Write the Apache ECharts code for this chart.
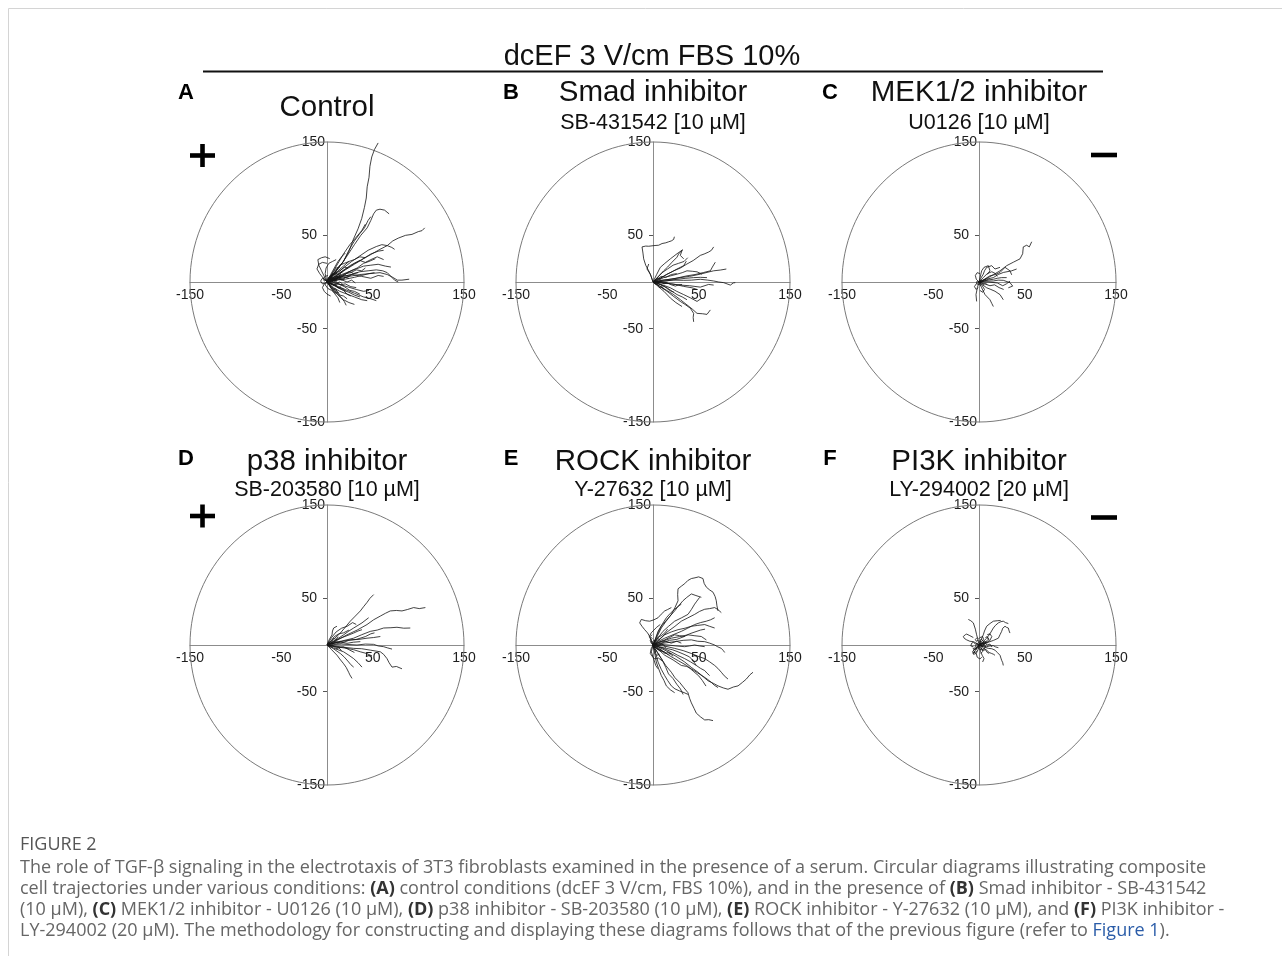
<!DOCTYPE html>
<html>
<head>
<meta charset="utf-8">
<script src="https://cdn.jsdelivr.net/npm/echarts@6/dist/echarts.min.js"></script>
<style>
  html, body { margin: 0; padding: 0; background: #ffffff; }
  #chart { width: 1282px; height: 956px; }
</style>
</head>
<body>
<div id="chart"></div>
<script>
// Composite cell trajectories (µm), every track starts at the origin.
const tracksControl = [
  [[0,0],[6,7],[12,15],[18,22],[24,33],[29,46],[34,57],[38,68],[41,80],[43,90],[44,102],[46,112],[47,124],[49,134],[52,142],[56,149]],
  [[0,0],[8,9],[15,18],[22,28],[30,40],[37,50],[44,58],[48,66],[51,73],[54,77],[58,78],[63,77],[68,73]],
  [[0,0],[10,6],[20,13],[30,19],[40,25],[49,30],[58,35],[66,39],[72,44],[78,47],[86,50],[93,51],[100,54],[104,55],[107,58]],
  [[0,0],[9,8],[18,15],[27,22],[36,28],[45,34],[54,38],[60,40],[66,39],[71,37],[74,35]],
  [[0,0],[9,3],[18,6],[27,8],[36,11],[45,12],[54,13],[61,12],[66,10],[70,6],[74,2],[78,0]],
  [[0,0],[12,3],[24,6],[36,8],[47,9],[58,10],[66,8],[72,5],[77,2],[82,2],[90,3]],
  [[0,0],[6,10],[12,20],[18,30],[25,40],[32,48],[38,55],[42,62]],
  [[0,0],[-3,6],[-6,12],[-9,18],[-10,24],[-6,26],[-2,27],[3,25]],
  [[0,0],[-4,4],[-8,9],[-11,14],[-9,19],[-5,21],[0,20]],
  [[0,0],[5,-5],[10,-11],[15,-16],[19,-21],[21,-25]],
  [[0,0],[8,-4],[16,-8],[24,-11],[30,-14],[36,-16]],
  [[0,0],[10,-4],[20,-8],[30,-12],[40,-16],[48,-18],[54,-20]],
  [[0,0],[7,-6],[14,-10],[22,-13],[30,-16],[38,-19],[44,-20]],
  [[0,0],[12,-2],[22,-5],[32,-8],[40,-10],[46,-9]],
  [[0,0],[10,2],[20,3],[30,5],[38,7],[46,9],[52,10]],
  [[0,0],[8,4],[16,8],[24,11],[32,14],[40,17],[48,18],[56,19],[64,17],[70,16]],
  [[0,0],[6,6],[12,12],[18,17],[24,22],[30,24],[36,27],[42,26]],
  [[0,0],[4,8],[8,15],[12,22],[16,27],[20,31]],
  [[0,0],[9,6],[16,11],[24,16],[30,20],[36,23],[42,21],[48,24],[55,27],[62,24]],
  [[0,0],[6,-2],[12,-6],[18,-9],[22,-13],[26,-15]],
  [[0,0],[4,-6],[8,-12],[12,-17],[14,-22]],
  [[0,0],[2,3],[5,7],[9,9],[13,8],[17,11]],
  [[0,0],[-3,-2],[-5,-6],[-3,-10],[0,-13],[4,-15]],
  [[0,0],[-2,3],[-5,4],[-7,1],[-5,-2],[-1,-1]],
  [[0,0],[5,1],[10,-1],[15,-3],[20,-2],[26,-5],[32,-6]],
  [[0,0],[6,3],[12,5],[18,4],[24,6],[28,9],[34,10]],
  [[0,0],[3,5],[7,9],[11,14],[14,18],[19,20],[24,22]],
  [[0,0],[8,2],[14,6],[20,9],[26,10],[32,13],[38,12],[42,15]],
  [[0,0],[3,-4],[7,-7],[11,-10],[14,-14],[18,-15],[22,-18]],
  [[0,0],[10,12],[18,22],[24,34],[30,44],[36,52],[41,58],[45,66],[48,70]],
  [[0,0],[14,10],[26,18],[38,24],[48,30],[56,33],[62,34]],
  [[0,0],[-2,9],[-1,15],[2,20],[6,22],[10,24]],
  [[0,0],[6,-8],[12,-14],[18,-19],[24,-22],[30,-24]],
  [[0,0],[16,6],[28,8],[38,6],[48,4],[56,7],[62,6]],
  [[0,0],[4,2],[7,-1],[10,2],[12,5],[15,3]],
  [[0,0],[5,4],[10,6],[15,5],[20,8],[24,11],[28,10]],
  [[0,0],[3,-2],[8,-3],[12,-6],[17,-7],[21,-10]],
  [[0,0],[6,1],[11,4],[17,2],[22,0],[27,2],[31,-1]],
  [[0,0],[-2,-3],[1,-7],[5,-9],[9,-12],[12,-11]],
  [[0,0],[4,6],[9,10],[14,12],[19,16],[23,15]],
  [[0,0],[7,-3],[13,-2],[19,-5],[25,-9],[30,-10],[36,-13]],
  [[0,0],[2,4],[6,5],[9,3],[12,6],[15,8]],
  [[0,0],[9,4],[18,7],[26,12],[33,15],[40,20],[46,22],[53,25]],
  [[0,0],[3,1],[5,4],[8,3],[10,6],[13,5],[15,8]],
  [[0,0],[2,-2],[5,-1],[7,-4],[10,-3],[12,-6],[15,-5]],
  [[0,0],[4,3],[6,1],[9,2],[11,-1],[14,0],[17,-2]],
  [[0,0],[1,4],[4,6],[6,9],[9,8],[11,11]],
  [[0,0],[3,-3],[4,-6],[7,-8],[9,-7],[11,-10],[13,-12]],
  [[0,0],[-1,2],[-3,1],[-4,4],[-2,6],[1,7]],
  [[0,0],[5,2],[9,1],[13,3],[17,2],[20,5],[24,4]],
  [[0,0],[2,5],[5,8],[8,12],[10,15],[14,16]]
];

const tracksSmad = [
  [[0,0],[-2,6],[-4.7,12],[-8,18],[-10.2,24.8],[-11,31],[-12,37.6],[-8,38.5],[-4.7,38.3],[1,39],[6.2,39.4],[9.9,41.2],[14,42],[17.2,43.1],[20,44],[22.6,45.6],[23.4,48.5]],
  [[0,0],[8,4],[15,8],[22.6,12],[30,15],[37.2,19.3],[44,23],[51.8,28.5],[56,30],[60.9,32.1],[64,34],[66.4,37.6]],
  [[0,0],[6,6],[11.7,12],[16,16],[20.8,21.2],[26.3,26.6],[28,30],[31.8,33.9],[29.9,28.5],[33.6,24.8]],
  [[0,0],[10,2],[20,3],[29.9,4.7],[40,6],[51.8,8.4],[58,10],[66.4,12],[73.7,12.8],[80.3,13.9]],
  [[0,0],[12,1],[22,2],[33.6,1.8],[42,2],[51.8,2.9],[60,2],[66.4,1.1],[72,0],[77.4,-0.7],[84.7,-3.3],[88,-1],[90.1,-0.7]],
  [[0,0],[12,2],[25,4],[37.2,6.6],[46,8],[55.5,10.2],[62.8,12],[65,16],[68.2,21.2]],
  [[0,0],[8,-5],[15.3,-9.9],[22,-15],[29.9,-20.8],[35,-24],[40.9,-28.1],[44.5,-33.6],[44,-38],[44.5,-42.7]],
  [[0,0],[10,-6],[22.6,-13.5],[30,-19],[37.2,-24.5],[43,-29],[48.2,-33.6],[54,-34],[59.1,-34.7],[62.8,-29.9]],
  [[0,0],[10,-3],[19,-6.2],[26,-10],[33.6,-13.5],[41,-17],[48.2,-20.8],[53.6,-17.2]],
  [[0,0],[10,-1],[20,-2],[29.9,-3.3],[40,-4],[51.8,-5.5],[60.9,-2.6],[66.4,-3.3]],
  [[0,0],[4,8],[8,15.7],[13,20],[19,24.8],[26.3,30.3],[32.8,34.7]],
  [[0,0],[8,4],[15.3,8.4],[21,11],[26.3,13.9],[33.6,17.5],[36.5,22.3]],
  [[0,0],[10,-1],[19,-1.8],[26,-3],[33.6,-4.7],[42.7,-6.2],[48.2,-8]],
  [[0,0],[8,-3],[15.3,-6.2],[21,-10],[26.3,-13.5],[32,-16],[37.2,-19]],
  [[0,0],[-2.9,8.4],[-6.6,13.9],[-4.7,19.3]],
  [[0,0],[13,1],[26.3,2.9],[36,4],[44.5,4.7],[52,5],[59.1,4.7]],
  [[0,0],[8,0],[15.3,-0.7],[20,-3],[24.5,-4.4],[28,-3],[31.8,-2.6]],
  [[0,0],[6,2],[11.7,4.7],[19,6.5],[26.3,8.4],[32,10],[37.2,12],[43,11.5],[48.2,10.9],[53.6,8.4]],
  [[0,0],[6,-5],[12,-10],[19,-17.2],[25,-22],[31.8,-26.3]],
  [[0,0],[5,5],[10,10],[16,14],[22,18],[28,20],[34,22],[38,26]],
  [[0,0],[4,3],[9,6],[14,5],[20,8],[26,9]],
  [[0,0],[7,-2],[13,-5],[18,-9],[23,-11]],
  [[0,0],[3,1],[6,-1],[9,0],[12,-2],[15,-1]],
  [[0,0],[2,-2],[5,-3],[7,-6],[10,-5],[12,-8]],
  [[0,0],[3,2],[5,4],[8,3],[10,6]]
];

const tracksMek = [
  [[0,0],[5,2],[10.2,4.7],[16,8],[23,12],[30.3,17.5],[37.6,21.2],[44.9,24.8],[47.8,30.3],[48.5,37.6],[52.2,39.4],[55.1,37.6],[57.7,43.1]],
  [[0,0],[8,3],[15.7,4.7],[21,8],[26.6,10.2],[35.8,12],[41.2,13.9]],
  [[0,0],[2,4],[4.7,8.4],[6,12],[8.4,15.7],[13.9,17.5],[17.5,13.9],[23,15.7]],
  [[0,0],[8,1],[15.7,1.1],[21,2],[26.6,1.8],[33.9,-0.7],[36.9,-4.4],[32.1,-6.2]],
  [[0,0],[2.9,-6.2],[6.6,-13.5],[9,-16],[12,-19],[14,-23],[15.7,-26.3]],
  [[0,0],[4,-3],[8.4,-6.2],[13,-8],[17.5,-9.9],[23,-13.5],[26.6,-19]],
  [[0,0],[-1.8,-6.2],[-3.3,-13.5],[-2.6,-20.8]],
  [[0,0],[2.9,12],[5.5,15.7],[10.2,17.5],[12,12],[9,8]],
  [[0,0],[8,2],[15.7,2.9],[20,4],[24.8,4.7],[30.3,4.7]],
  [[0,0],[6,3],[12,6.6],[18,8],[23,10.2],[28.5,15.7],[33.9,12],[35.8,7.7]],
  [[0,0],[-3,3],[-4,7],[-2,10],[1,9]],
  [[0,0],[3,-3],[6,-8],[4,-11],[1,-9]],
  [[0,0],[6,-2],[12,-4],[17,-3],[22,-6],[27,-8]],
  [[0,0],[-3,-2],[-5,-5],[-3,-8],[-1,-6]],
  [[0,0],[5,5],[9,9],[14,11],[18,9],[20,6]],
  [[0,0],[10,0],[20,-1],[26,-4],[30,-2],[34,1]],
  [[0,0],[2,2],[4,0],[6,3],[8,1],[10,3]],
  [[0,0],[-2,1],[-3,-1],[-1,-3],[1,-2],[2,-4]],
  [[0,0],[3,-1],[5,-3],[7,-1],[9,-3]]
];

const tracksP38 = [
  [[0,0],[11,5],[21.9,10.9],[33,16],[43.8,21.9],[51,27],[58.4,31],[64,34],[69.3,36.5],[76,37],[82.1,36.5],[88,38],[94.9,40.1],[101,39],[107.7,40.1]],
  [[0,0],[15,4],[29.2,7.3],[38,11],[47.4,14.6],[55,16],[62,18.2],[70,18.5],[76.6,19],[84,18],[91.2,18.2]],
  [[0,0],[7,6],[14.6,12.8],[20,19],[25.5,25.5],[31,31],[36.5,36.5],[40,41],[43.8,45.6],[47,50],[51.1,54]],
  [[0,0],[9,5],[18.2,10.9],[24,15],[29.2,18.2],[38.3,23.7],[45.6,29.2]],
  [[0,0],[15,-2],[29.2,-3.6],[38,-4],[47.4,-5.5],[58.4,-7.3],[62,-10],[65.7,-14.6],[68,-19],[71.2,-23.7],[76,-23],[82.1,-25.5]],
  [[0,0],[16,1],[32.8,0],[42,1],[51.1,0.7],[56,-1],[62,-1.8],[66,-3],[71.2,-4.4]],
  [[0,0],[5,-5],[10.9,-10.9],[14,-15],[18.2,-20.1],[21,-24],[23.7,-29.2],[25,-32],[27.4,-35.8]],
  [[0,0],[9,-4],[18.2,-7.3],[24,-11],[29.2,-14.6],[34,-19],[38.3,-23.7]],
  [[0,0],[7,-4],[14.6,-9.1],[19,-13],[23.7,-18.2],[26,-21],[29.2,-23.7]],
  [[0,0],[2,5],[5.5,10.9],[6,15],[7.3,18.2],[10.9,20.1]],
  [[0,0],[12,3],[25.5,5.5],[35,6],[43.8,7.3],[51,8],[58.4,9.1]],
  [[0,0],[11,-2],[21.9,-3.6],[29,-5],[36.5,-7.3],[43,-9],[49.3,-11.7]],
  [[0,0],[7,4],[14.6,7.3],[22,10],[29.2,12.8],[34,15],[38.3,16.4]],
  [[0,0],[9.1,3.6],[15,3],[21.9,1.8],[29,3],[36.5,3.6]],
  [[0,0],[5,8],[10,14],[16,18],[22,20],[28,24],[32,22]],
  [[0,0],[6,-1],[12,-3],[18,-2],[24,-5],[30,-8]],
  [[0,0],[4,4],[8,9],[13,12],[18,13],[24,16]],
  [[0,0],[8,2],[16,2],[24,5],[32,6],[42,9],[48,12],[52,13]],
  [[0,0],[3,2],[6,1],[9,3],[12,2],[15,4]],
  [[0,0],[4,-2],[7,-1],[10,-4],[13,-3],[16,-6]],
  [[0,0],[2,3],[5,4],[7,7],[10,6],[12,9]]
];

const tracksRock = [
  [[0,0],[4,8],[9.1,18.2],[14,25],[20.1,32.8],[24,40],[27.4,47.4],[27,54],[27.4,60.2],[31,63],[34.7,65.7],[38,69],[42,71.2],[46,72],[50,73],[54.7,71.2],[56,66],[58.4,62],[62,59],[65.7,56.6],[68,52],[69.3,47.4],[70,42],[71.2,36.5]],
  [[0,0],[8,7],[16.4,14.6],[24,20],[31,25.5],[38,29],[45.6,32.8],[51,36],[56.6,38.3],[62,39],[67.5,40.1],[71,38],[74.8,34.7]],
  [[0,0],[-3.6,9.1],[-6,13],[-9.1,16.4],[-12,20],[-14.6,23.7],[-12.8,27.4],[-8,26],[-3.6,25.5],[1,27],[5.5,29.2],[9,33],[12.8,36.5],[16,38],[20.1,40.1]],
  [[0,0],[12,2],[23.7,3.6],[33,5],[42,5.5],[49,4],[56.6,3.6],[62,2],[67.5,0],[71,-2],[74.8,-3.6],[77,-6],[78.5,-8]],
  [[0,0],[8,-3],[16.4,-7.3],[25,-12],[34.7,-18.2],[42,-24],[49.3,-29.2],[55,-34],[60.2,-38.3],[66,-41],[71.2,-43.8],[77,-46],[82.1,-47.4],[88,-45],[93.1,-43.8],[98,-40],[102.2,-36.5],[106,-32],[109.5,-29.2]],
  [[0,0],[4,-7],[9.1,-14.6],[14,-22],[20.1,-29.2],[24,-35],[29.2,-40.1],[34,-46],[38.3,-51.1],[40,-57],[42,-62],[45,-68],[47.4,-73],[52,-77],[56.6,-80.3],[61,-80],[65.7,-81]],
  [[0,0],[10,-3],[20.1,-7.3],[27,-11],[34.7,-14.6],[41,-18],[47.4,-21.9],[52,-25],[56.6,-27.4],[59,-30],[62,-32.8]],
  [[0,0],[12,-1],[23.7,-3.6],[33,-6],[42,-9.1],[49,-12],[56.6,-14.6],[62,-18],[67.5,-21.9],[71,-25],[74.8,-29.2],[78,-33],[82.1,-36.5]],
  [[0,0],[3,-9],[5.5,-18.2],[9,-26],[12.8,-32.8],[16,-38],[20.1,-43.8],[24,-47],[29.2,-49.3],[34,-51],[38.3,-52.9]],
  [[0,0],[2,-9],[3.6,-18.2],[6,-25],[9.1,-32.8],[12,-38],[14.6,-43.8],[19,-48],[23.7,-51.1]],
  [[0,0],[6,5],[12.8,10.9],[20,14],[27.4,16.4],[35,18],[42,20.1],[49,21],[56.6,21.9],[62,20],[67.5,18.2]],
  [[0,0],[5,7],[10.9,14.6],[17,20],[23.7,25.5],[31,29],[38.3,32.8],[42,38],[45.6,43.8],[48,47],[51.1,51.1]],
  [[0,0],[4,10],[9.1,20.1],[16,28],[23.7,36.5],[28,42],[32.8,47.4],[37,51],[42,54.7],[47,53],[52.9,51.1]],
  [[0,0],[10,4],[20.1,7.3],[29,9],[38.3,10.9],[45,10],[52.9,9.1],[56,7],[58.4,5.5]],
  [[0,0],[8,0.5],[16.4,0],[25,-1],[34.7,-1.8],[40,-1],[45.6,0],[51,-1],[56.6,-1.8]],
  [[0,0],[6,-5],[12.8,-10.9],[22,-16],[31,-21.9],[37,-23],[42,-25.5],[49,-30],[56.6,-34.7],[60,-37],[63.9,-40.1],[67,-43],[71.2,-45.6]],
  [[0,0],[7,-2],[14.6,-3.6],[21,-5],[27.4,-7.3],[34,-10],[40.1,-12.8],[44,-17],[47.4,-21.9]],
  [[0,0],[-1.8,-7.3],[0,-13],[1.8,-18.2],[3,-22],[5.5,-25.5]],
  [[0,0],[3,7],[5.5,14.6],[10,22],[14.6,29.2],[19,34],[23.7,38.3],[27,41],[31,43.8]],
  [[0,0],[6,4],[12.8,7.3],[22,11],[31,14.6],[38,18],[45.6,21.9],[52,24],[58.4,25.5],[63,27],[67.5,29.2]],
  [[0,0],[6,3],[12.8,5.5],[18,8],[23.7,10.9],[29,10],[34.7,9.1]],
  [[0,0],[-2,-4],[-3,-9],[-1,-12],[2,-15],[6,-14],[10,-17]],
  [[0,0],[5,-8],[10,-16],[14,-24],[17,-31],[22,-36],[26,-42],[30,-47],[33,-53]],
  [[0,0],[10,-6],[19,-12],[28,-17],[37,-22],[44,-28],[50,-33],[54,-38],[58,-44]],
  [[0,0],[-2,5],[-4,9],[-2,13],[1,16],[4,19],[8,22]],
  [[0,0],[9,2],[18,5],[26,6],[34,9],[40,12],[46,14],[52,16],[57,17]],
  [[0,0],[3,-3],[7,-6],[12,-7],[16,-10],[20,-9]],
  [[0,0],[4,-4],[9,-6],[13,-9],[17,-8],[22,-12]],
  [[0,0],[7,3],[14,4],[20,2],[26,4],[31,2]],
  [[0,0],[2,4],[5,8],[9,10],[13,13],[16,17]],
  [[0,0],[2,-3],[4,-2],[6,-5],[8,-4],[10,-7]],
  [[0,0],[-1,3],[1,5],[3,4],[5,7],[7,6]],
  [[0,0],[3,1],[6,-1],[9,1],[12,0],[14,-3]],
  [[0,0],[1,-4],[3,-6],[2,-9],[4,-11],[7,-10]],
  [[0,0],[-2,2],[-3,5],[-1,7],[-3,9],[-1,11]]
];

const tracksPi3k = [
  [[0,0],[4,3],[8.4,7.3],[12,12],[15.7,18.2],[18,21],[21.2,23.7],[24,25],[26.6,25.5],[29,24],[32.1,23]],
  [[0,0],[-1,5],[-2.6,10.9],[-4,17],[-6.2,23.7],[-9,26],[-11.7,27.4]],
  [[0,0],[2,5],[4.7,10.9],[6,15],[8.4,20.1],[12,23],[15.7,25.5],[20,26],[23.7,26.3]],
  [[0,0],[6,2],[12,3.6],[16,5],[21.2,7.3],[23,11],[24.8,14.6],[26,18],[28.5,20.1],[30,19],[32.1,18.2],[33,15],[33.9,12.8]],
  [[0,0],[-3,2],[-6.2,3.6],[-10,4],[-13.5,5.5],[-16,7],[-17.2,9.1],[-15,11],[-13.5,11.7],[-10,10],[-6.2,8]],
  [[0,0],[5,-2],[10.2,-3.6],[14,-4],[17.5,-5.5],[20,-8],[23,-11],[24,-14],[24.8,-16.4],[26,-19],[26.6,-21.9]],
  [[0,0],[-1,-2],[-2.6,-3.6],[-4,-6],[-6.2,-9.1],[-5.5,-7.3],[-4,-9]],
  [[0,0],[1,-4],[1.8,-7.3],[3.5,-11],[5.5,-14.6],[4,-18.2]],
  [[0,0],[4,-1],[8.4,-1.8],[12,-1],[15.7,-0.7],[18,-2],[21.2,-2.9]],
  [[0,0],[3,4],[5,6],[4,9],[1,8],[-1,6]],
  [[0,0],[4,-3],[8.4,-5.5],[11,-8],[13.9,-9.1],[16,-10],[17.5,-11]],
  [[0,0],[-3,-3],[-5,-5],[-7,-7],[-6,-10],[-3,-9]],
  [[0,0],[3,2],[6,1],[8,4],[10,6],[9,9],[7,8]],
  [[0,0],[2,-3],[4,-6],[7,-5],[9,-8],[11,-9]],
  [[0,0],[5,3],[9,2],[12,5],[14,9],[12,12],[9,11]],
  [[0,0],[-2,2],[-4,1],[-6,3],[-8,2],[-9,-1],[-6,-2]],
  [[0,0],[4,0],[7,2],[9,0],[12,1],[14,-2]],
  [[0,0],[-1,-5],[-3,-9],[-2,-13],[1,-15],[3,-13]],
  [[0,0],[2,2],[4,1],[5,4],[3,6],[1,5],[2,3]],
  [[0,0],[-2,-1],[-3,-4],[-5,-3],[-6,-6],[-4,-8],[-2,-6]],
  [[0,0],[3,-1],[5,1],[7,-1],[6,-4],[4,-5],[2,-3]],
  [[0,0],[1,3],[-1,5],[-3,4],[-4,6],[-2,8]],
  [[0,0],[4,1],[6,4],[9,3],[11,5],[10,8]],
  [[0,0],[-1,-3],[1,-5],[3,-4],[4,-7],[2,-9]],
  [[0,0],[2,1],[3,-2],[5,-1],[6,2],[8,1]],
  [[0,0],[-3,1],[-4,-2],[-2,-4],[-5,-5],[-7,-3]]
];

// Panel headings and the axis range shared by all six diagrams.
const panelLetters = ['A', 'B', 'C', 'D', 'E', 'F'];
const panelTitles = ['Control', 'Smad inhibitor', 'MEK1/2 inhibitor', 'p38 inhibitor', 'ROCK inhibitor', 'PI3K inhibitor'];
const panelSubtitles = ['', 'SB-431542 [10 µM]', 'U0126 [10 µM]', 'SB-203580 [10 µM]', 'Y-27632 [10 µM]', 'LY-294002 [20 µM]'];
const panelTracks = [tracksControl, tracksSmad, tracksMek, tracksP38, tracksRock, tracksPi3k];
const axisMin = -150;
const axisMax = 150;
const axisStep = 50;
const labelledTicks = [-150, -50, 50, 150];

const figureTitle = 'dcEF 3 V/cm FBS 10%';
const captionHead = 'FIGURE 2';
const captionLines = [
  'The role of TGF-β signaling in the electrotaxis of 3T3 fibroblasts examined in the presence of a serum. Circular diagrams illustrating composite',
  'cell trajectories under various conditions: {b|(A)} control conditions (dcEF 3 V/cm, FBS 10%), and in the presence of {b|(B)} Smad inhibitor - SB-431542',
  '(10 µM), {b|(C)} MEK1/2 inhibitor - U0126 (10 µM), {b|(D)} p38 inhibitor - SB-203580 (10 µM), {b|(E)} ROCK inhibitor - Y-27632 (10 µM), and {b|(F)} PI3K inhibitor -',
  'LY-294002 (20 µM). The methodology for constructing and displaying these diagrams follows that of the previous figure (refer to {l|Figure 1}).'
];

// ---- layout ----
const FONT = '"Liberation Sans", Arial, Helvetica, sans-serif';
const colCenters = [327, 653, 979];
const rowCenters = [282, 645];
const RX = 137, RY = 140;
const titleY = [93, 462];
const subtitleY = [123, 490];
const controlTitleY = 108;
const letterY = [93, 459];
const letterX = [186, 511, 830];

const grids = [], xAxes = [], yAxes = [], series = [], graphics = [];

panelTracks.forEach(function (tracks, i) {
  const col = i % 3, row = Math.floor(i / 3);
  const cx = colCenters[col], cy = rowCenters[row];
  grids.push({ left: cx - RX, top: cy - RY, width: 2 * RX, height: 2 * RY, containLabel: false });

  // axes cross at the origin: shifted from the grid edge to its centre
  xAxes.push({
    gridIndex: i, type: 'value', min: axisMin, max: axisMax, interval: axisStep,
    position: 'bottom', offset: -RY,
    axisLine: { onZero: false, lineStyle: { color: '#8c8c8c', width: 1 } },
    axisTick: { show: false },
    splitLine: { show: false },
    axisLabel: {
      color: '#1e1e1e', fontSize: 14, fontFamily: FONT, margin: 6,
      showMinLabel: true, showMaxLabel: true, hideOverlap: false,
      formatter: function (v) { return labelledTicks.indexOf(v) >= 0 ? String(v) : ''; }
    }
  });

  yAxes.push({
    gridIndex: i, type: 'value', min: axisMin, max: axisMax, interval: axisStep,
    position: 'left', offset: -RX,
    axisLine: { onZero: false, lineStyle: { color: '#8c8c8c', width: 1 } },
    axisTick: { show: true, length: 4, customValues: [-50, 50], lineStyle: { color: '#555' } },
    splitLine: { show: false },
    axisLabel: {
      color: '#1e1e1e', fontSize: 14, fontFamily: FONT, margin: 2,
      showMinLabel: true, showMaxLabel: true, hideOverlap: false,
      formatter: function (v) {
        if (labelledTicks.indexOf(v) < 0) return '';
        return Math.abs(v) === 50 ? '{p|' + v + '}' : '{q|' + v + '}';
      },
      rich: {
        p: { color: '#1e1e1e', fontSize: 14, fontFamily: FONT, padding: [0, 8, 0, 0] },
        q: { color: '#1e1e1e', fontSize: 14, fontFamily: FONT }
      }
    }
  });

  // boundary circle of radius 150 µm
  series.push({
    type: 'custom', xAxisIndex: i, yAxisIndex: i, data: [[0, 0]], silent: true, clip: false, z: 1,
    renderItem: function (params, api) {
      const c = api.coord([0, 0]);
      const e = api.coord([axisMax, axisMax]);
      return {
        type: 'ellipse',
        shape: { cx: c[0], cy: c[1], rx: e[0] - c[0], ry: c[1] - e[1] },
        style: { fill: 'none', stroke: '#7a7a7a', lineWidth: 1 }
      };
    }
  });

  series.push({
    type: 'lines', coordinateSystem: 'cartesian2d', xAxisIndex: i, yAxisIndex: i,
    polyline: true, silent: true, z: 3,
    lineStyle: { color: '#151515', width: 0.85, opacity: 0.95 },
    data: tracks.map(function (t) { return { coords: t }; })
  });

  // panel letter, title and subtitle
  graphics.push({
    type: 'text', z: 10,
    style: { text: panelLetters[i], x: letterX[col], y: letterY[row], fill: '#000',
      font: 'bold 22px ' + FONT, textAlign: 'center', textVerticalAlign: 'middle' }
  });
  const hasSub = panelSubtitles[i] !== '';
  graphics.push({
    type: 'text', z: 10,
    style: { text: panelTitles[i], x: cx, y: hasSub ? titleY[row] : controlTitleY, fill: '#111',
      font: '29.5px ' + FONT, textAlign: 'center', textVerticalAlign: 'middle' }
  });
  if (hasSub) {
    graphics.push({
      type: 'text', z: 10,
      style: { text: panelSubtitles[i], x: cx, y: subtitleY[row], fill: '#111',
        font: '21.5px ' + FONT, textAlign: 'center', textVerticalAlign: 'middle' }
    });
  }
});

// field polarity marks: anode (+) on the left, cathode (−) on the right
[155.5, 516].forEach(function (y) {
  graphics.push({ type: 'rect', shape: { x: 190, y: y - 2.3, width: 25, height: 4.6 }, style: { fill: '#000' } });
  graphics.push({ type: 'rect', shape: { x: 200.2, y: y - 11.5, width: 4.6, height: 23 }, style: { fill: '#000' } });
});
[155, 517.5].forEach(function (y) {
  graphics.push({ type: 'rect', shape: { x: 1091, y: y - 2.3, width: 26, height: 4.6 }, style: { fill: '#000' } });
});

// heading and rule
graphics.push({
  type: 'text', z: 10,
  style: { text: figureTitle, x: 652, y: 57, fill: '#111', font: '29px ' + FONT,
    textAlign: 'center', textVerticalAlign: 'middle' }
});
graphics.push({ type: 'line', shape: { x1: 203, y1: 71.5, x2: 1103, y2: 71.5 }, style: { stroke: '#111', lineWidth: 2 } });

// page frame
graphics.push({ type: 'line', shape: { x1: 8.5, y1: 8.5, x2: 1282, y2: 8.5 }, style: { stroke: '#d4d4d4', lineWidth: 1 } });
graphics.push({ type: 'line', shape: { x1: 8.5, y1: 8.5, x2: 8.5, y2: 956 }, style: { stroke: '#d4d4d4', lineWidth: 1 } });

// caption
const CAP_FONT = '"Open Sans", "Noto Sans", sans-serif';
const CAP_SIZE = 18;
graphics.push({
  type: 'text', z: 10,
  style: { text: captionHead, x: 20, y: 845, fill: '#555', font: CAP_SIZE + 'px ' + CAP_FONT,
    textAlign: 'left', textVerticalAlign: 'middle' }
});
const captionY = [868, 889, 910, 931];
captionLines.forEach(function (line, k) {
  graphics.push({
    type: 'text', z: 10,
    style: {
      text: line, x: 20, y: captionY[k], fill: '#666', font: CAP_SIZE + 'px ' + CAP_FONT,
      textAlign: 'left', textVerticalAlign: 'middle',
      rich: {
        b: { fill: '#333', fontWeight: 'bold', fontSize: CAP_SIZE, fontFamily: CAP_FONT },
        l: { fill: '#2a5ca8', fontSize: CAP_SIZE, fontFamily: CAP_FONT }
      }
    }
  });
});

const chart = echarts.init(document.getElementById('chart'), null, { renderer: 'canvas' });
chart.setOption({
  animation: false,
  backgroundColor: '#ffffff',
  grid: grids,
  xAxis: xAxes,
  yAxis: yAxes,
  series: series,
  graphic: { elements: graphics }
});
</script>
</body>
</html>
